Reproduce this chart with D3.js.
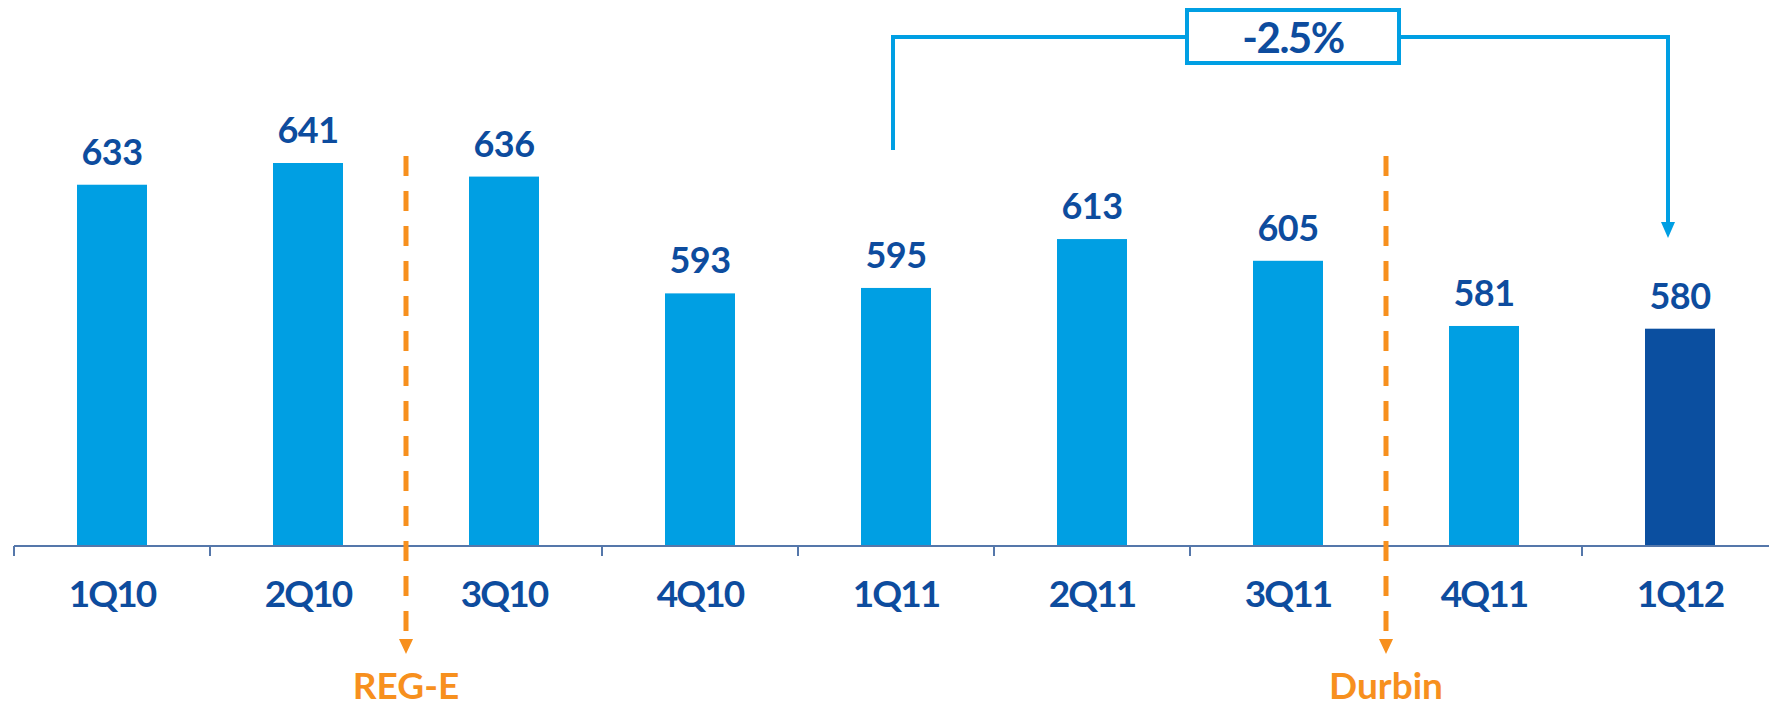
<!DOCTYPE html>
<meta charset="utf-8">
<head>
  <title>Quarterly bars</title>
</head>

<style>
body {
  margin: 0;
  background: #fff;
  font-family: Lato, "Open Sans", sans-serif;
}
text { font-weight: 700; }
</style>

<body>
  <div id="content">
    <svg width="1769" height="709"></svg>
  </div>

  <script src="https://cdnjs.cloudflare.com/ajax/libs/d3/7.8.5/d3.min.js"></script>

  <script>
// data
var quarters = ['1Q10', '2Q10', '3Q10', '4Q10', '1Q11', '2Q11', '3Q11', '4Q11', '1Q12'];
var values = [633, 641, 636, 593, 595, 613, 605, 581, 580];
var highlight = ['1Q12'];
// regulatory events sit between two quarters (after the named one)
var events = [
  {after: '2Q10', label: 'REG-E'},
  {after: '3Q11', label: 'Durbin'}
];
var change = {from: '1Q11', to: '1Q12', label: '-2.5%'};

var svg = d3.select('#content svg');

var lightBlue = '#009fe3',
    darkBlue = '#0b4fa0',
    textBlue = '#0d4c9e',
    orange = '#f7901e',
    axisCol = '#5577aa';

var axisY = 546;

var x = d3.scaleBand()
  .domain(quarters)
  .range([14, 14 + 196 * quarters.length])
  .paddingInner(0)
  .paddingOuter(0);

// bars don't start at zero in the original
var y = d3.scaleLinear()
  .domain([500, 641])
  .range([axisY, 163]);

var barW = 70;
var xc = function(q) { return x(q) + x.bandwidth() / 2; };

// bars
svg.selectAll('rect.bar')
  .data(quarters)
  .enter().append('rect')
  .attr('class', 'bar')
  .attr('x', function(d) { return xc(d) - barW / 2; })
  .attr('y', function(d, i) { return y(values[i]); })
  .attr('width', barW)
  .attr('height', function(d, i) { return axisY - y(values[i]); })
  .attr('fill', function(d) { return highlight.indexOf(d) >= 0 ? darkBlue : lightBlue; });

// value labels
svg.selectAll('text.val')
  .data(quarters)
  .enter().append('text')
  .attr('class', 'val')
  .attr('x', xc)
  .attr('y', function(d, i) { return y(values[i]) - 20; })
  .attr('text-anchor', 'middle')
  .attr('font-size', 36)
  .attr('letter-spacing', -0.5)
  .attr('fill', textBlue)
  .text(function(d, i) { return values[i]; });

// x axis: ticks at band edges
var edges = quarters.map(function(q) { return x(q); });
var axis = svg.append('g');
axis.append('line')
  .attr('x1', x.range()[0]).attr('x2', 1769)
  .attr('y1', axisY).attr('y2', axisY)
  .attr('stroke', axisCol).attr('stroke-width', 2);
axis.selectAll('line.tick')
  .data(edges)
  .enter().append('line')
  .attr('class', 'tick')
  .attr('x1', function(d) { return d; }).attr('x2', function(d) { return d; })
  .attr('y1', axisY).attr('y2', axisY + 10)
  .attr('stroke', axisCol).attr('stroke-width', 2);
axis.selectAll('text')
  .data(quarters)
  .enter().append('text')
  .attr('x', xc)
  .attr('y', 607)
  .attr('text-anchor', 'middle')
  .attr('font-size', 37)
  .attr('letter-spacing', -2)
  .attr('fill', textBlue)
  .text(function(d) { return d; });

// event markers (dashed orange arrows)
var ev = svg.selectAll('g.event')
  .data(events)
  .enter().append('g')
  .attr('class', 'event')
  .attr('transform', function(d) { return 'translate(' + (x(d.after) + x.bandwidth()) + ',0)'; });

ev.append('line')
  .attr('x1', 0).attr('x2', 0)
  .attr('y1', 156).attr('y2', 636)
  .attr('stroke', orange)
  .attr('stroke-width', 5)
  .attr('stroke-dasharray', '20,15');
ev.append('path')
  .attr('d', 'M-7,639L7,639L0,654Z')
  .attr('fill', orange);
ev.append('text')
  .attr('x', 0)
  .attr('y', 699)
  .attr('text-anchor', 'middle')
  .attr('font-size', 37)
  .attr('fill', orange)
  .text(function(d) { return d.label; });

// change bracket
var bx1 = xc(change.from) - 3,
    bx2 = xc(change.to) - 12,
    by = 37;
var br = svg.append('g');
br.append('path')
  .attr('d', 'M' + bx1 + ',150V' + by + 'H' + bx2 + 'V223')
  .attr('fill', 'none')
  .attr('stroke', lightBlue)
  .attr('stroke-width', 4);
br.append('path')
  .attr('d', 'M' + (bx2 - 7) + ',222L' + (bx2 + 7) + ',222L' + bx2 + ',238Z')
  .attr('fill', lightBlue);
br.append('rect')
  .attr('x', 1187).attr('y', 10)
  .attr('width', 212).attr('height', 53)
  .attr('fill', '#fff')
  .attr('stroke', lightBlue)
  .attr('stroke-width', 4);
br.append('text')
  .attr('x', 1293)
  .attr('y', 53)
  .attr('text-anchor', 'middle')
  .attr('font-size', 42)
  .attr('letter-spacing', -1.5)
  .attr('fill', textBlue)
  .text(change.label);
  </script>
</body>
</html>
